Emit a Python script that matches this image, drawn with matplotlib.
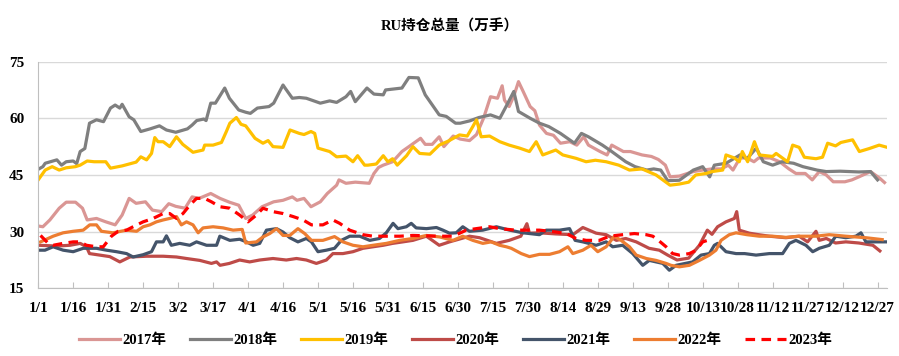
import matplotlib
matplotlib.use("Agg")
import matplotlib.pyplot as plt

plt.rcParams['font.family'] = ['Liberation Serif', 'Noto Sans CJK SC']
plt.rcParams['font.weight'] = 'bold'

# x axis: day of year, ticks every 15 days
tick_days = [0, 15, 30, 45, 60, 75, 90, 105, 120, 135, 150, 165, 180,
             195, 210, 225, 240, 255, 270, 285, 300, 315, 330, 345, 360]
tick_labels = ['1/1', '1/16', '1/31', '2/15', '3/2', '3/17', '4/1', '4/16',
               '5/1', '5/16', '5/31', '6/15', '6/30', '7/15', '7/30', '8/14',
               '8/29', '9/13', '9/28', '10/13', '10/28', '11/12', '11/27',
               '12/12', '12/27']

# (day, open interest in 10k lots)
ru_2017 = [(0, 31.5), (2, 31.3), (5, 33.1), (9, 36.2), (12, 37.8), (16, 37.8), (19, 36.2),
           (21, 33.1), (25, 33.5), (29, 32.6), (33, 31.8), (36, 34.4), (39, 38.8), (42, 37.5),
           (46, 37.9), (49, 35.7), (53, 35.3), (56, 37.4), (59, 36.7), (63, 36.2), (66, 39.2),
           (69, 38.8), (74, 40.1), (78, 38.8), (82, 37.8), (86, 37.0), (89, 33.5), (92, 34.4),
           (96, 36.6), (101, 37.9), (105, 38.3), (109, 39.2), (111, 38.3), (114, 38.8),
           (117, 36.6), (121, 37.9), (124, 40.1), (128, 42.3), (129, 43.7), (132, 42.8),
           (136, 43.1), (142, 42.8), (144, 45.4), (146, 47.0), (148, 47.6), (152, 48.5),
           (156, 51.2), (159, 52.5), (164, 54.7), (166, 53.1), (169, 53.1), (172, 55.1),
           (174, 52.5), (178, 55.3), (181, 54.5), (185, 54.1), (188, 55.7), (191, 60.0),
           (194, 65.7), (197, 65.3), (199, 68.6), (200, 64.8), (202, 63.1), (204, 65.9),
           (206, 69.7), (208, 67.1), (211, 63.1), (213, 62.0), (215, 58.2), (218, 56.0),
           (221, 55.5), (224, 53.4), (228, 53.8), (231, 52.9), (234, 55.1), (236, 52.9),
           (241, 51.2), (244, 50.3), (246, 52.9), (251, 51.2), (254, 51.2), (259, 50.3),
           (263, 49.9), (266, 49.1), (269, 47.6), (271, 44.5), (275, 44.7), (281, 45.9),
           (285, 46.3), (289, 46.6), (293, 46.6), (296, 47.6), (298, 46.3), (301, 49.5),
           (304, 49.5), (307, 48.5), (309, 49.5), (314, 49.5), (318, 48.5), (322, 46.6),
           (325, 45.4), (329, 45.4), (332, 43.7), (335, 45.9), (338, 45.0), (341, 43.2),
           (346, 43.2), (349, 43.7), (352, 44.5), (357, 45.9), (361, 44.1), (363, 43.0)]

ru_2018 = [(0, 46.5), (2, 47.2), (3, 48.1), (8, 49.0), (10, 47.6), (12, 48.5), (15, 48.7),
           (16.5, 48.0), (18, 51.2), (20, 52.0), (22, 58.7), (25, 59.6), (28, 59.1), (31, 62.7),
           (33, 63.5), (35, 62.7), (36, 63.7), (39, 60.4), (41, 59.6), (44, 56.5), (48, 57.2),
           (52, 58.0), (55, 56.9), (59, 56.3), (64, 57.2), (66, 58.2), (68, 59.4), (71, 59.8),
           (72, 59.4), (74, 64.0), (76, 64.0), (80, 68.0), (82, 65.3), (86, 62.2), (89, 61.6),
           (91, 61.3), (94, 62.7), (99, 63.1), (101, 64.0), (105, 68.8), (106, 67.9),
           (109, 65.3), (112, 65.5), (115, 65.3), (121, 64.0), (125, 64.6), (128, 64.2),
           (132, 65.7), (134, 67.1), (136, 64.4), (141, 68.0), (144, 66.4), (148, 66.2),
           (149, 67.5), (156, 68.0), (159, 70.8), (163, 70.7), (166, 66.2), (172, 60.9),
           (175, 60.5), (179, 58.7), (181, 58.7), (185, 59.3), (189, 60.2), (194, 60.9),
           (198, 60.0), (201, 63.5), (204, 67.1), (206, 61.8), (211, 60.0), (215, 58.7),
           (219, 57.8), (224, 56.0), (230, 53.4), (233, 56.0), (236, 55.1), (242, 52.9),
           (246, 51.2), (252, 48.5), (256, 47.2), (261, 46.3), (264, 46.6), (267, 46.3),
           (270, 43.5), (275, 43.6), (281, 46.3), (285, 47.2), (288, 44.5), (290, 47.6),
           (295, 48.1), (301, 50.3), (304, 49.3), (308, 52.1), (311, 48.5), (315, 47.6),
           (319, 48.5), (324, 48.1), (328, 47.2), (334, 46.3), (338, 45.9), (344, 46.0),
           (352, 45.8), (357, 45.9), (360, 43.7)]

ru_2019 = [(0, 43.7), (3, 46.3), (6, 47.2), (9, 46.3), (12, 46.9), (16, 47.2), (18, 47.6),
           (21, 48.7), (24, 48.5), (29, 48.5), (31, 46.8), (36, 47.4), (42, 48.4), (44, 49.8),
           (46.5, 49.0), (48.6, 50.7), (50, 54.9), (51.4, 53.8), (53.6, 53.8), (56.4, 52.5),
           (59.3, 55.1), (62, 53.1), (66.4, 51.0), (70.7, 51.6), (71.4, 52.9), (75, 52.9),
           (78.6, 53.6), (80.7, 56.5), (82.2, 58.7), (85, 60.2), (87, 58.4), (89, 58.0),
           (93, 54.7), (96.4, 53.4), (98.6, 54.1), (100.7, 52.5), (105, 52.3), (108, 56.9),
           (112, 56.0), (114, 55.7), (117, 56.5), (118.6, 56.0), (120, 52.1), (125, 51.2),
           (128, 49.8), (132, 50.0), (135, 48.5), (137, 50.1), (140, 47.6), (141.4, 47.6),
           (145, 47.9), (148, 50.1), (150, 48.5), (152, 49.3), (154, 47.6), (158, 50.1),
           (160.7, 52.5), (163.6, 50.7), (168, 50.5), (172, 52.9), (176, 54.0), (180.7, 55.6),
           (184, 55.3), (186.4, 57.8), (188, 59.6), (190, 55.1), (193.6, 55.3), (198, 53.8),
           (202, 52.9), (206.5, 52.1), (210.7, 51.2), (213.6, 53.8), (216.4, 50.3),
           (222, 51.6), (225, 50.3), (230.7, 49.4), (235, 48.5), (239, 48.9), (243.6, 48.5),
           (249, 47.6), (253.6, 46.3), (259, 46.6), (265, 45.0), (269, 43.2), (271, 42.3),
           (275, 42.6), (279, 43.1), (282, 45.0), (286.5, 45.4), (289, 45.9), (293.6, 46.3),
           (295, 50.3), (298.6, 49.5), (300.7, 48.5), (302, 51.2), (304.3, 48.5),
           (307.2, 53.8), (309.3, 50.3), (315, 49.9), (316.5, 50.7), (321.4, 48.5),
           (323.6, 52.9), (326.4, 52.3), (328.6, 49.7), (333.6, 49.3), (336.4, 49.7),
           (338.6, 53.4), (342, 52.7), (344.3, 53.6), (349.3, 54.3), (352.2, 51.2),
           (356.5, 52.0), (360.7, 52.9), (363.6, 52.4)]

ru_2020 = [(0, 26.4), (8, 26.2), (13.6, 26.4), (18, 26.9), (20.7, 26.0), (22, 24.2),
           (26.4, 23.8), (30.7, 23.4), (35, 22.0), (39.3, 23.3), (46.5, 23.5), (53.6, 23.5),
           (59.3, 23.3), (63.6, 22.9), (69.3, 22.4), (74.3, 21.6), (76.5, 22.0), (78, 21.1),
           (82, 21.6), (86.4, 22.5), (90.7, 22.0), (95, 22.5), (100.7, 22.9), (106.4, 22.5),
           (110.8, 22.9), (115, 22.5), (119.3, 21.6), (123.6, 22.5), (126.4, 24.2),
           (130.7, 24.2), (135, 24.7), (139.3, 25.6), (143.6, 26.0), (148, 26.4), (152, 26.9),
           (156.4, 27.3), (160.7, 27.7), (166.5, 28.8), (172, 26.4), (176.4, 27.3),
           (185, 28.8), (189.3, 28.4), (196.5, 26.9), (202, 27.7), (207, 28.8), (209.6, 32.1),
           (210.7, 29.6), (215, 29.7), (222, 29.4), (229.3, 29.2), (233.6, 31.1),
           (239.3, 29.6), (243.6, 29.2), (248, 27.7), (252, 28.2), (256.5, 27.3), (262, 25.6),
           (266.4, 25.1), (270, 23.8), (274, 22.5), (279, 23.0), (283.6, 26.4), (287, 30.4),
           (289, 29.3), (291.4, 31.3), (295, 32.6), (298.6, 33.5), (299.6, 35.3),
           (300.7, 30.4), (305, 29.6), (309, 29.2), (313.6, 28.8), (320.7, 28.4),
           (326.4, 28.8), (330, 27.3), (333.6, 30.1), (335, 27.7), (338, 28.2), (342, 27.0),
           (346.4, 27.3), (352, 27.0), (358, 26.4), (361, 24.9)]

ru_2021 = [(1, 25.1), (2.9, 25.1), (6.4, 26.0), (10.7, 25.1), (15, 24.7), (19.3, 25.6),
           (25, 25.6), (29.3, 25.1), (33.6, 24.7), (37.9, 24.2), (40.7, 23.3), (45, 23.9),
           (48.6, 24.7), (50.7, 27.3), (53.6, 27.3), (55, 28.9), (57.1, 26.4), (60.7, 26.9),
           (65, 26.4), (67.9, 27.3), (72.2, 26.4), (76.5, 26.4), (77.9, 28.8), (82.2, 27.7),
           (86.4, 28.0), (89.3, 27.3), (92.2, 26.4), (95, 26.9), (97.9, 30.4), (102.2, 30.8),
           (105, 29.9), (107.9, 28.4), (111.4, 27.3), (115, 28.2), (117.2, 27.3), (120, 24.7),
           (123.6, 25.1), (127.1, 25.6), (130, 27.7), (133.6, 28.8), (137.9, 28.8),
           (142.2, 27.7), (146.4, 28.2), (149.3, 29.7), (152.2, 32.2), (154.3, 30.8),
           (157.9, 31.3), (160, 32.2), (162.1, 31.0), (166.5, 30.8), (170.8, 31.1),
           (173.6, 30.4), (176.4, 29.6), (179.3, 29.7), (182.1, 31.3), (185, 30.1),
           (190.7, 30.4), (196.5, 31.3), (202.2, 30.4), (207.9, 29.7), (215, 29.2),
           (217.9, 30.4), (223.6, 30.4), (227.9, 30.8), (230.3, 27.7), (233.6, 27.3),
           (239.3, 26.4), (243.6, 27.3), (246.4, 26.0), (250.7, 26.4), (255, 24.2),
           (259.3, 21.1), (262.1, 22.4), (265, 22.0), (267.9, 21.6), (270.7, 19.8),
           (273.6, 21.1), (280.7, 22.0), (284.3, 23.8), (287.9, 24.2), (290, 26.4),
           (291.4, 26.9), (295, 24.7), (299.3, 24.2), (303, 24.2), (307.9, 23.8),
           (313.6, 24.2), (319.3, 24.2), (322.2, 26.9), (325, 27.7), (329.3, 26.4),
           (332.2, 24.7), (335, 25.6), (339.3, 26.4), (342.1, 28.8), (346.4, 28.4),
           (350.7, 28.8), (352.9, 29.7), (355, 27.3), (360.7, 27.3), (363.6, 27.3)]

ru_2022 = [(1, 27.3), (6.4, 28.8), (10.7, 29.7), (15, 30.1), (19.3, 30.4), (22.1, 31.8),
           (25, 31.8), (27.1, 30.1), (32.1, 29.7), (37.9, 30.4), (42.2, 30.1), (45, 31.3),
           (47.9, 31.8), (50.7, 32.6), (53.6, 33.1), (56.4, 33.5), (59.3, 34.0), (61.4, 31.8),
           (63.6, 32.6), (66.4, 31.8), (68.6, 29.7), (70.7, 31.0), (75, 31.3), (79.3, 31.0),
           (83.6, 30.4), (87.5, 30.6), (89, 27.0), (93.6, 27.3), (96.4, 28.6), (99.3, 29.5),
           (102.2, 30.8), (105, 29.0), (107.9, 29.0), (111.4, 30.8), (114.3, 29.5),
           (117.2, 27.7), (122.1, 27.7), (127.1, 28.7), (130.7, 27.3), (135, 26.4),
           (139.3, 26.0), (143.6, 26.4), (149.3, 26.9), (155, 27.7), (160.7, 28.2),
           (166.5, 29.0), (172.2, 28.6), (177.9, 27.7), (182.1, 28.8), (186.4, 27.7),
           (190.7, 26.9), (194.3, 27.3), (197.9, 26.4), (200.8, 26.0), (202.9, 25.6),
           (207.2, 24.2), (210.7, 23.4), (215, 24.0), (219.3, 24.0), (223.6, 24.7),
           (227.2, 26.0), (229.3, 24.2), (233.6, 25.1), (237.1, 26.4), (240, 24.7),
           (243.6, 26.0), (247.1, 28.8), (250, 27.7), (253.6, 26.0), (256.5, 23.8),
           (260.8, 22.9), (265, 22.4), (269.3, 21.6), (271.4, 21.1), (275, 20.7),
           (279.3, 21.1), (283.6, 22.4), (287.9, 23.8), (290.7, 25.1), (292.9, 27.7),
           (296.4, 29.2), (299.3, 29.7), (304, 29.2), (309.3, 28.8), (315, 28.8),
           (320.7, 28.5), (326.4, 28.8), (333.6, 28.8), (339.3, 29.2), (346.4, 28.8),
           (355, 28.4), (362, 27.9)]

ru_2023 = [(1, 29.0), (4.3, 26.9), (6.4, 26.4), (10.7, 26.9), (15, 27.3), (17.9, 27.3),
           (20.7, 26.4), (25, 26.0), (27.9, 26.0), (31.4, 28.8), (34.3, 30.1), (37.9, 30.4),
           (40.7, 31.3), (45, 32.6), (49.3, 33.5), (53.6, 34.8), (56.4, 34.8), (59.3, 33.5),
           (62.1, 34.8), (65, 37.0), (67.9, 38.8), (71.4, 38.8), (74.3, 37.9), (77.9, 36.6),
           (82.2, 36.2), (86.4, 34.4), (90, 32.6), (93.6, 34.4), (96.4, 36.2), (100.7, 35.3),
           (105, 34.8), (109.3, 34.0), (113.6, 33.1), (117.2, 31.8), (122.1, 31.8),
           (126.4, 33.1), (129.3, 32.2), (133.6, 30.4), (139.3, 29.2), (143.6, 28.8),
           (155, 28.8), (160.7, 29.0), (172.2, 28.8), (178, 28.8), (183.6, 30.4),
           (187.9, 30.8), (193.6, 31.3), (197.9, 30.8), (204.9, 30.4), (215, 30.4),
           (222.2, 29.9), (226.5, 29.5), (230.7, 28.2), (235, 27.7), (240.7, 27.7),
           (245, 28.8), (250.7, 29.2), (255.7, 29.5), (260.8, 29.2), (263.6, 28.8),
           (266.4, 27.5), (269.3, 26.0), (272.1, 24.2), (275, 23.8), (279.3, 24.2),
           (282.2, 25.1), (285, 27.3), (287.1, 27.7)]

series = [('2017年', ru_2017, '#DA9694', '-'),
          ('2018年', ru_2018, '#7F7F7F', '-'),
          ('2019年', ru_2019, '#FFC000', '-'),
          ('2020年', ru_2020, '#BE4B48', '-'),
          ('2021年', ru_2021, '#44546A', '-'),
          ('2022年', ru_2022, '#ED7D31', '-'),
          ('2023年', ru_2023, '#FF0000', (0, (3, 2)))]

fig = plt.figure(figsize=(8.99, 3.56), dpi=100)
ax = fig.add_axes([0.0425, 0.19, 0.944, 0.637])

for name, pts, color, ls in series:
    days = [p[0] for p in pts]
    vals = [p[1] for p in pts]
    ax.plot(days, vals, color=color, linestyle=ls, linewidth=2.3, label=name)

ax.set_xlim(0, 364)
ax.set_ylim(15, 75)
ax.set_yticks([15, 30, 45, 60, 75])
ax.set_xticks(tick_days)
ax.set_xticklabels(tick_labels)
ax.grid(axis='y', color='#D9D9D9', linewidth=1)
ax.set_axisbelow(True)

for side in ['top', 'right']:
    ax.spines[side].set_visible(False)
for side in ['left', 'bottom']:
    ax.spines[side].set_color('#BFBFBF')

ax.tick_params(axis='x', direction='in', length=4, color='#BFBFBF',
               labelsize=11, pad=10)
ax.tick_params(axis='y', length=0, labelsize=11, pad=10)

fig.suptitle('RU持仓总量（万手）', x=0.5, y=0.945, fontsize=10.5, fontweight='bold')

ax.legend(loc='center', bbox_to_anchor=(0.507, 0.045), bbox_transform=fig.transFigure,
          ncol=7, frameon=False, fontsize=10.5, handlelength=2.8, columnspacing=1.6,
          handletextpad=0.2)

fig.savefig('out.png', dpi=100)
